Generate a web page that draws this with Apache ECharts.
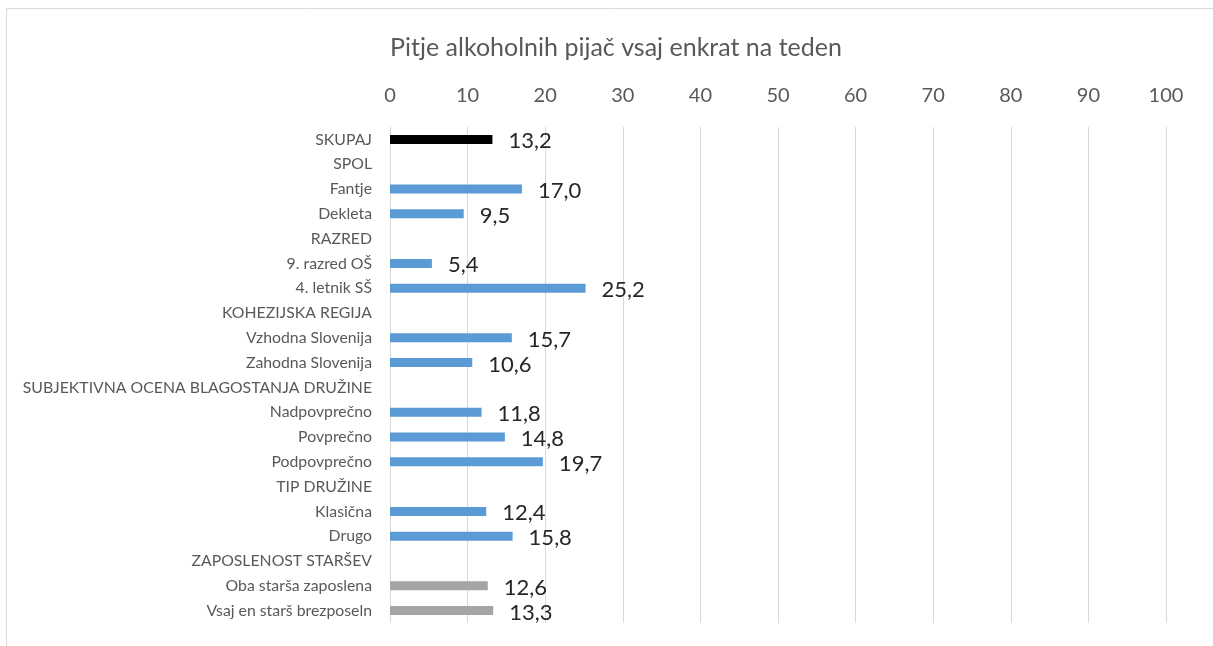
<!DOCTYPE html>
<html>
<head>
<meta charset="utf-8">
<script src="https://cdn.jsdelivr.net/npm/echarts@6/dist/echarts.min.js"></script>
<style>
  html, body { margin: 0; padding: 0; background: #fff; }
  #chart { width: 1213px; height: 646px; }
</style>
</head>
<body>
<div id="chart"></div>
<script>
// Rows of the chart, top to bottom; group headings have no value.
const categories = [
  'SKUPAJ', 'SPOL', 'Fantje', 'Dekleta', 'RAZRED', '9. razred OŠ', '4. letnik SŠ',
  'KOHEZIJSKA REGIJA', 'Vzhodna Slovenija', 'Zahodna Slovenija',
  'SUBJEKTIVNA OCENA BLAGOSTANJA DRUŽINE', 'Nadpovprečno', 'Povprečno', 'Podpovprečno',
  'TIP DRUŽINE', 'Klasična', 'Drugo',
  'ZAPOSLENOST STARŠEV', 'Oba starša zaposlena', 'Vsaj en starš brezposeln'
];
const values = [
  13.2, null, 17.0, 9.5, null, 5.4, 25.2,
  null, 15.7, 10.6,
  null, 11.8, 14.8, 19.7,
  null, 12.4, 15.8,
  null, 12.6, 13.3
];
// Which colour group each row belongs to.
const groups = [
  'total', null, 'sub', 'sub', null, 'sub', 'sub',
  null, 'sub', 'sub',
  null, 'sub', 'sub', 'sub',
  null, 'sub', 'sub',
  null, 'emp', 'emp'
];
const axisTicks = [0, 10, 20, 30, 40, 50, 60, 70, 80, 90, 100];

const groupColors = { total: '#000000', sub: '#5b9bd5', emp: '#a5a5a5' };
const FONT = 'Lato, "Open Sans", sans-serif';

const chart = echarts.init(document.getElementById('chart'));
chart.setOption({
  backgroundColor: '#ffffff',
  animation: false,
  graphic: [{
    type: 'rect',
    shape: { x: 6.5, y: 8.5, width: 1230, height: 660 },
    style: { fill: 'none', stroke: '#d9d9d9', lineWidth: 1 },
    silent: true
  }],
  title: {
    text: 'Pitje alkoholnih pijač vsaj enkrat na teden',
    left: 611,
    textAlign: 'center',
    top: 30,
    textStyle: { fontFamily: FONT, fontSize: 25, fontWeight: 'normal', color: '#595959' }
  },
  grid: { left: 390, right: 47, top: 127, bottom: 23, containLabel: false },
  xAxis: {
    type: 'value',
    position: 'top',
    min: axisTicks[0],
    max: axisTicks[axisTicks.length - 1],
    interval: axisTicks[1] - axisTicks[0],
    axisLine: { show: false },
    axisTick: { show: false },
    axisLabel: { margin: 21, fontFamily: FONT, fontSize: 20, color: '#595959' },
    splitLine: { show: true, lineStyle: { color: '#d9d9d9', width: 1 } }
  },
  yAxis: {
    type: 'category',
    inverse: true,
    data: categories,
    axisLine: { show: false },
    axisTick: { show: false },
    axisLabel: { margin: 18, fontFamily: FONT, fontSize: 15.8, color: '#595959' }
  },
  series: [{
    type: 'bar',
    barWidth: 9,
    data: values.map((v, i) => ({
      value: v,
      itemStyle: { color: groups[i] ? groupColors[groups[i]] : 'transparent' }
    })),
    label: {
      show: true,
      position: 'right',
      distance: 16,
      offset: [0, 2],
      fontFamily: FONT,
      fontSize: 22,
      color: '#262626',
      formatter: p => (p.value == null ? '' : p.value.toFixed(1).replace('.', ','))
    }
  }]
});
</script>
</body>
</html>
